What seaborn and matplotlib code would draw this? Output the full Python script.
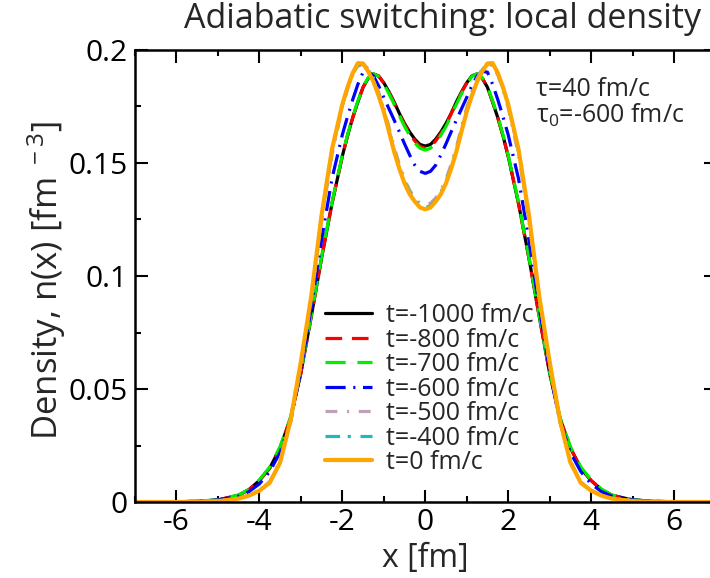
import numpy as np
import pandas as pd
import matplotlib
matplotlib.use("Agg")
import matplotlib.pyplot as plt
from matplotlib.ticker import MultipleLocator, FixedLocator, FixedFormatter
import seaborn as sns

# x grid [fm]
x_fm = [-7, -6, -5.5, -5, -4.5, -4.25, -4, -3.75, -3.5, -3.25, -3, -2.75, -2.5, -2.25,
        -2, -1.875, -1.75, -1.625, -1.5, -1.375, -1.25, -1.125, -1, -0.875, -0.75,
        -0.625, -0.5, -0.375, -0.25, -0.125,
        0,
        0.125, 0.25, 0.375, 0.5, 0.625, 0.75, 0.875, 1, 1.125, 1.25, 1.375, 1.5, 1.625,
        1.75, 1.875, 2,
        2.25, 2.5, 2.75, 3, 3.25, 3.5, 3.75, 4, 4.25, 4.5, 5, 5.5, 6, 7]

# local density n(x) [fm^-3]
n_t1000 = [0.0, 0.0001, 0.0003, 0.0009, 0.003, 0.0055, 0.0095, 0.015, 0.024, 0.037, 0.057,
           0.082, 0.108, 0.132, 0.153, 0.162, 0.170, 0.177, 0.1835, 0.1875, 0.1894, 0.1885,
           0.1855, 0.1815, 0.177, 0.172, 0.1675, 0.1637, 0.1605, 0.1582,
           0.1575,
           0.1582, 0.1605, 0.1637, 0.1675, 0.172, 0.177, 0.1815, 0.1855, 0.1885, 0.1894,
           0.1875, 0.1835, 0.177, 0.170, 0.162, 0.153, 0.132, 0.108, 0.082, 0.057, 0.037,
           0.024, 0.015, 0.0095, 0.0055, 0.003, 0.0009, 0.0003, 0.0001, 0.0]
n_t800 = [0.0, 0.0001, 0.0003, 0.0009, 0.003, 0.0055, 0.0095, 0.015, 0.024, 0.037, 0.057,
          0.082, 0.108, 0.132, 0.153, 0.162, 0.170, 0.177, 0.1835, 0.1875, 0.1894, 0.1885,
          0.1853, 0.1812, 0.1765, 0.1717, 0.167, 0.163, 0.1597, 0.1573,
          0.1565,
          0.1573, 0.1597, 0.163, 0.167, 0.1717, 0.1765, 0.1812, 0.1853, 0.1885, 0.1894,
          0.1875, 0.1835, 0.177, 0.170, 0.162, 0.153, 0.132, 0.108, 0.082, 0.057, 0.037,
          0.024, 0.015, 0.0095, 0.0055, 0.003, 0.0009, 0.0003, 0.0001, 0.0]
n_t700 = [0.0, 0.0001, 0.0003, 0.001, 0.0031, 0.0057, 0.0098, 0.0155, 0.0245, 0.0375, 0.0575,
          0.0825, 0.1085, 0.1325, 0.1535, 0.1625, 0.1705, 0.1775, 0.1838, 0.1878, 0.1895,
          0.1883, 0.185, 0.1807, 0.176, 0.171, 0.1662, 0.1622, 0.1588, 0.1565,
          0.1557,
          0.1565, 0.1588, 0.1622, 0.1662, 0.171, 0.176, 0.1807, 0.185, 0.1883, 0.1895,
          0.1878, 0.1838, 0.1775, 0.1705, 0.1625, 0.1535, 0.1325, 0.1085, 0.0825, 0.0575,
          0.0375, 0.0245, 0.0155, 0.0098, 0.0057, 0.0031, 0.001, 0.0003, 0.0001, 0.0]
n_t600 = [0.0, 0.0001, 0.0003, 0.0009, 0.0026, 0.0046, 0.008, 0.0135, 0.022, 0.0355, 0.058,
          0.086, 0.116, 0.143, 0.1625, 0.1705, 0.178, 0.1848, 0.1902, 0.1905, 0.1885, 0.1842,
          0.179, 0.174, 0.169, 0.1638, 0.1585, 0.1535, 0.149, 0.1463,
          0.1454,
          0.1463, 0.149, 0.1535, 0.1585, 0.1638, 0.169, 0.174, 0.179, 0.1842, 0.1885,
          0.1905, 0.1902, 0.1848, 0.178, 0.1705, 0.1625, 0.143, 0.116, 0.086, 0.058,
          0.0355, 0.022, 0.0135, 0.008, 0.0046, 0.0026, 0.0009, 0.0003, 0.0001, 0.0]
n_t500 = [0.0, 0.0, 0.0001, 0.0005, 0.0016, 0.003, 0.0053, 0.009, 0.0182, 0.035, 0.060,
          0.089, 0.124, 0.1535, 0.1745, 0.1825, 0.189, 0.1928, 0.1938, 0.1918, 0.1875,
          0.1815, 0.1745, 0.166, 0.157, 0.1495, 0.1428, 0.138, 0.1345, 0.1322,
          0.1314,
          0.1322, 0.1345, 0.138, 0.1428, 0.1495, 0.157, 0.166, 0.1745, 0.1815, 0.1875,
          0.1918, 0.1938, 0.1928, 0.189, 0.1825, 0.1745, 0.1535, 0.124, 0.089, 0.060,
          0.035, 0.0182, 0.009, 0.0053, 0.003, 0.0016, 0.0005, 0.0001, 0.0, 0.0]
n_t400 = [0.0, 0.0, 0.0001, 0.0004, 0.0015, 0.0029, 0.0051, 0.0087, 0.0178, 0.0357, 0.0615,
          0.090, 0.1258, 0.155, 0.1755, 0.1832, 0.1893, 0.1932, 0.1941, 0.1912, 0.1865,
          0.1803, 0.1735, 0.165, 0.1558, 0.1483, 0.1418, 0.137, 0.1335, 0.1311,
          0.1302,
          0.1311, 0.1335, 0.137, 0.1418, 0.1483, 0.1558, 0.165, 0.1735, 0.1803, 0.1865,
          0.1912, 0.1941, 0.1932, 0.1893, 0.1832, 0.1755, 0.155, 0.1258, 0.090, 0.0615,
          0.0357, 0.0178, 0.0087, 0.0051, 0.0029, 0.0015, 0.0004, 0.0001, 0.0, 0.0]
n_t0 = [0.0, 0.0, 0.0001, 0.0004, 0.0015, 0.0028, 0.005, 0.0085, 0.0175, 0.036, 0.062,
        0.091, 0.127, 0.156, 0.176, 0.1835, 0.1898, 0.1942, 0.194, 0.1905, 0.186, 0.1798,
        0.1727, 0.164, 0.155, 0.1475, 0.141, 0.1362, 0.1329, 0.1303,
        0.1295,
        0.1303, 0.1329, 0.1362, 0.141, 0.1475, 0.155, 0.164, 0.1727, 0.1798, 0.186,
        0.1905, 0.194, 0.1942, 0.1898, 0.1835, 0.176, 0.156, 0.127, 0.091, 0.062,
        0.036, 0.0175, 0.0085, 0.005, 0.0028, 0.0015, 0.0004, 0.0001, 0.0, 0.0]

labels = ["t=-1000 fm/c", "t=-800 fm/c", "t=-700 fm/c", "t=-600 fm/c",
          "t=-500 fm/c", "t=-400 fm/c", "t=0 fm/c"]
series = [n_t1000, n_t800, n_t700, n_t600, n_t500, n_t400, n_t0]

colors = ["#000000", "#ff0000", "#00ee00", "#0000ff", "#c0a0b8", "#20b8b8", "#ffa500"]
widths = [2.3, 2.3, 2.3, 2.3, 2.3, 2.3, 3.0]
dash_styles = ["", (12, 7), (14.5, 8.5), (14.5, 5.5, 1.5, 5.5),
               (8.5, 7, 1.5, 7), (10.5, 5.5, 2.2, 7), ""]

df = pd.concat([pd.DataFrame({"x": x_fm, "n": s, "t": lab})
                for s, lab in zip(series, labels)], ignore_index=True)

sns.set_style("ticks")
plt.rcParams["font.family"] = ["Open Sans", "DejaVu Sans"]
plt.rcParams["mathtext.fontset"] = "custom"
plt.rcParams["mathtext.rm"] = "Open Sans"
plt.rcParams["mathtext.it"] = "Open Sans:italic"
plt.rcParams["lines.scale_dashes"] = False
plt.rcParams["axes.unicode_minus"] = False

fig = plt.figure(figsize=(7.1, 5.78), dpi=100)
ax = fig.add_axes([135 / 710, 1 - 502 / 578, 580.5 / 710, 452 / 578])

sns.lineplot(data=df, x="x", y="n", hue="t", style="t", size="t",
             hue_order=labels, style_order=labels, size_order=labels,
             palette=dict(zip(labels, colors)),
             dashes=dict(zip(labels, dash_styles)),
             sizes=dict(zip(labels, widths)),
             estimator=None, legend=False, ax=ax)

ax.set_xlim(-7, 7)
ax.set_ylim(0, 0.2)
ax.xaxis.set_major_locator(FixedLocator([-6, -4, -2, 0, 2, 4, 6]))
ax.xaxis.set_minor_locator(MultipleLocator(1))
ax.yaxis.set_major_locator(FixedLocator([0, 0.05, 0.1, 0.15, 0.2]))
ax.yaxis.set_major_formatter(FixedFormatter(["0", "0.05", "0.1", "0.15", "0.2"]))
ax.yaxis.set_minor_locator(MultipleLocator(0.025))
ax.tick_params(which="both", direction="in", top=True, right=True, width=1.5,
               colors="black", labelsize=21.5)
ax.tick_params(which="major", length=9)
ax.tick_params(which="minor", length=4.5)
ax.tick_params(axis="x", pad=4)
ax.tick_params(axis="y", pad=5)
for sp in ax.spines.values():
    sp.set_linewidth(1.8)
    sp.set_color("black")

ax.set_xlabel("x [fm]", fontsize=23)
ax.set_ylabel(r"Density, n(x) [fm$^{\ -3}$]", fontsize=25)
ax.xaxis.set_label_coords(0.5, -0.088)
ax.yaxis.set_label_coords(-0.115, 0.49)

fig.text(0.623, 1 - 28 / 578, "Adiabatic switching: local density",
         ha="center", va="baseline", fontsize=24.5)

ax.text(0.69, 0.898, "τ=40 fm/c", transform=ax.transAxes, fontsize=18,
        va="baseline", ha="left")
ax.text(0.69, 0.8385, r"τ$_{0}$=-600 fm/c", transform=ax.transAxes, fontsize=18,
        va="baseline", ha="left")

ax.legend(handles=ax.lines[:7], labels=labels, loc="upper left",
          bbox_to_anchor=(0.327, 0.44), frameon=False, fontsize=18,
          borderpad=0, borderaxespad=0, handlelength=1.9, handletextpad=0.55,
          labelspacing=-0.02)

fig.savefig("out.png", dpi=100)
